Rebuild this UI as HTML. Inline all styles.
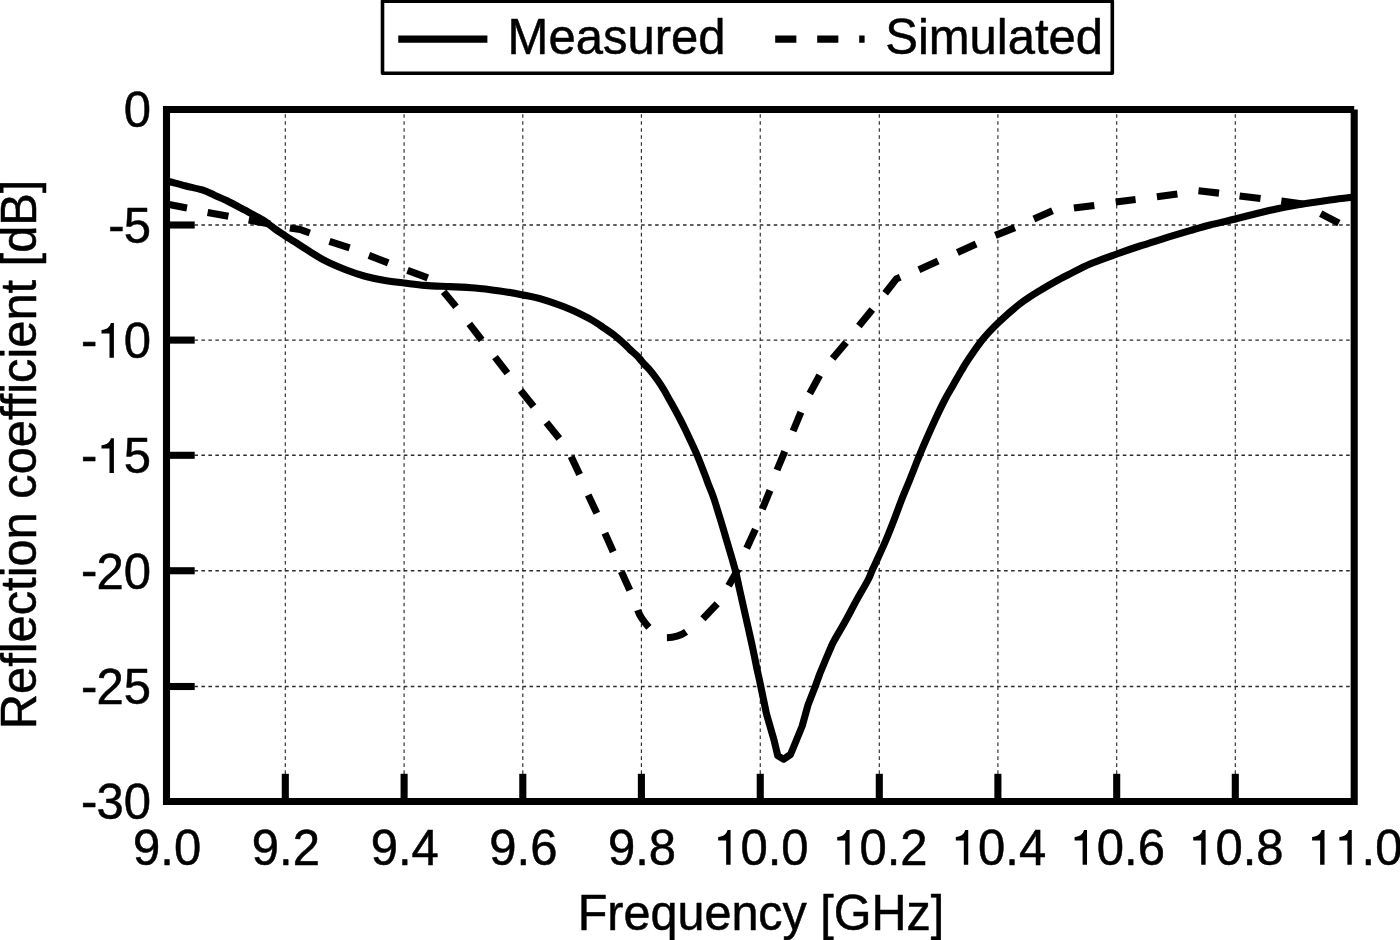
<!DOCTYPE html>
<html lang="en"><head><meta charset="utf-8"><title>Reflection coefficient</title>
<style>html,body{margin:0;padding:0;background:#fff;}svg{display:block}text{font-family:"Liberation Sans",sans-serif;fill:#000;stroke:#000;stroke-width:0.5px;stroke-linejoin:round}</style></head><body>
<svg width="1400" height="940" viewBox="0 0 1400 940">
<rect width="1400" height="940" fill="#fff"/>
<g stroke="#2b2b2b" stroke-width="1.4" stroke-dasharray="3.55 3.43" fill="none">
<path d="M285.30 801.8 V109.5" stroke-width="1.15"/>
<path d="M404.10 801.8 V109.5" stroke-width="1.15"/>
<path d="M522.80 801.8 V109.5" stroke-width="1.15"/>
<path d="M641.40 801.8 V109.5" stroke-width="1.15"/>
<path d="M760.25 801.8 V109.5" stroke-width="1.15"/>
<path d="M879.30 801.8 V109.5" stroke-width="1.15"/>
<path d="M997.90 801.8 V109.5" stroke-width="1.15"/>
<path d="M1116.70 801.8 V109.5" stroke-width="1.15"/>
<path d="M1235.30 801.8 V109.5" stroke-width="1.15"/>
<path d="M166.5 225.00 H1354.2"/>
<path d="M166.5 340.10 H1354.2"/>
<path d="M166.5 455.30 H1354.2"/>
<path d="M166.5 570.75 H1354.2"/>
<path d="M166.5 686.50 H1354.2"/>
</g>
<g stroke="#000" stroke-width="7.1" fill="none">
<path d="M285.30 801.5 V773.8"/>
<path d="M404.10 801.5 V773.8"/>
<path d="M522.80 801.5 V773.8"/>
<path d="M641.40 801.5 V773.8"/>
<path d="M760.25 801.5 V773.8"/>
<path d="M879.30 801.5 V773.8"/>
<path d="M997.90 801.5 V773.8"/>
<path d="M1116.70 801.5 V773.8"/>
<path d="M1235.30 801.5 V773.8"/>
<path d="M166.5 225.00 H194.7"/>
<path d="M166.5 340.10 H194.7"/>
<path d="M166.5 455.30 H194.7"/>
<path d="M166.5 570.75 H194.7"/>
<path d="M166.5 686.50 H194.7"/>
</g>
<path d="M166.4 180.9C167.0 181.1 166.9 181.0 170.0 181.8C173.1 182.6 179.5 184.4 185.0 185.8C190.5 187.2 198.0 188.6 203.0 190.2C208.0 191.8 211.0 193.7 215.0 195.4C219.0 197.2 222.0 198.2 227.0 200.7C232.0 203.2 239.0 207.0 245.0 210.2C251.0 213.4 258.0 217.0 263.0 220.1C268.0 223.2 271.3 226.4 275.0 229.0C278.7 231.6 281.7 233.5 285.0 235.7C288.3 237.9 290.8 239.3 295.0 242.0C299.2 244.7 305.0 248.6 310.0 251.7C315.0 254.8 319.2 257.7 325.0 260.7C330.8 263.7 338.3 266.9 345.0 269.5C351.7 272.1 358.3 274.4 365.0 276.2C371.7 278.0 378.5 279.4 385.0 280.5C391.5 281.6 397.3 282.2 404.0 283.0C410.7 283.8 417.3 284.8 425.0 285.4C432.7 286.0 441.7 286.2 450.0 286.6C458.3 287.0 466.7 287.3 475.0 288.0C483.3 288.7 492.0 289.9 500.0 291.0C508.0 292.1 516.1 293.6 522.8 294.9C529.5 296.2 532.1 296.3 540.0 298.7C547.9 301.1 561.7 305.8 570.0 309.2C578.3 312.6 585.0 316.3 590.0 319.0C595.0 321.7 597.5 323.6 600.0 325.2C602.5 326.8 602.7 327.1 605.0 328.7C607.3 330.3 610.7 332.4 614.0 335.0C617.3 337.6 622.3 342.1 625.0 344.5C627.7 346.9 627.9 347.6 630.0 349.5C632.1 351.4 635.6 354.3 637.5 356.2C639.4 358.1 640.1 359.4 641.4 360.9C642.6 362.4 643.5 363.4 645.0 365.0C646.5 366.6 648.1 368.0 650.2 370.5C652.3 373.0 655.2 376.8 657.5 380.0C659.8 383.2 662.0 386.7 664.0 390.0C666.0 393.3 667.7 396.7 669.6 400.0C671.5 403.3 673.4 406.7 675.2 410.0C677.0 413.3 678.8 416.7 680.5 420.0C682.2 423.3 683.9 426.7 685.5 430.0C687.1 433.3 688.2 435.8 690.2 440.0C692.2 444.2 695.4 451.1 697.2 455.3C699.0 459.5 699.8 461.7 701.1 465.0C702.4 468.3 703.7 471.7 705.0 475.0C706.3 478.3 707.6 482.2 708.7 485.0C709.8 487.8 710.5 489.5 711.5 492.0C712.5 494.5 713.4 497.0 714.4 500.0C715.4 503.0 716.5 506.7 717.5 510.0C718.5 513.3 719.6 516.7 720.6 520.0C721.6 523.3 722.6 526.7 723.6 530.0C724.6 533.3 725.5 536.7 726.5 540.0C727.5 543.3 728.0 544.9 729.5 550.0C731.0 555.1 733.7 564.0 735.4 570.7C737.1 577.4 738.2 583.5 739.7 590.0C741.2 596.5 742.7 603.3 744.2 610.0C745.7 616.7 747.2 623.3 748.7 630.0C750.2 636.7 751.7 643.3 753.1 650.0C754.5 656.7 756.0 664.1 757.2 670.0C758.5 675.9 759.1 678.2 760.6 685.5C762.1 692.8 766.5 714.0 766.5 714.0L774.0 740.0L777.8 755.8L783.6 759.2L790.5 754.5L796.5 740.0L802.2 726.0L808.0 705.0L815.2 686.5L819.7 674.0L825.5 660.0L831.5 646.0C831.5 646.0 832.1 644.3 834.5 640.0C836.9 635.7 842.3 626.7 846.0 620.0C849.7 613.3 853.0 606.7 856.7 600.0C860.4 593.3 865.5 584.9 868.0 580.0C870.5 575.1 870.5 574.1 872.0 570.8C873.5 567.5 874.7 565.1 877.0 560.0C879.3 554.9 883.2 546.7 886.0 540.0C888.8 533.3 891.4 526.7 894.0 520.0C896.6 513.3 898.9 506.7 901.5 500.0C904.1 493.3 907.3 486.0 909.7 480.0C912.1 474.0 914.4 468.1 916.0 464.0C917.6 459.9 917.8 459.3 919.5 455.3C921.2 451.3 923.4 445.9 926.0 440.0C928.6 434.1 931.9 426.7 935.0 420.0C938.1 413.3 941.7 405.8 944.7 400.0C947.7 394.2 950.4 390.0 953.2 385.0C956.1 380.0 959.3 374.2 961.8 370.0C964.3 365.8 964.6 365.0 968.0 360.0C971.4 355.0 977.0 346.4 982.0 340.2C987.0 334.0 991.7 329.1 998.0 323.0C1004.3 316.9 1013.0 309.2 1020.0 303.8C1027.0 298.4 1033.3 294.6 1040.0 290.5C1046.7 286.4 1055.0 281.8 1060.0 279.0C1065.0 276.2 1065.0 276.4 1070.0 273.9C1075.0 271.4 1082.2 267.3 1090.0 264.0C1097.8 260.7 1108.4 257.0 1116.7 254.0C1125.0 251.0 1132.0 248.6 1140.0 246.0C1148.0 243.4 1156.7 240.8 1165.0 238.2C1173.3 235.6 1182.5 232.9 1190.0 230.7C1197.5 228.5 1202.5 226.9 1210.0 225.0C1217.5 223.1 1227.0 221.1 1235.3 219.0C1243.6 216.9 1250.9 214.8 1260.0 212.7C1269.1 210.6 1278.3 208.3 1290.0 206.2C1301.7 204.1 1319.3 201.5 1330.0 200.0C1340.7 198.5 1350.2 197.5 1354.2 197.0" fill="none" stroke="#000" stroke-width="7.1" stroke-linejoin="round"/>
<g fill="none" stroke="#000" stroke-width="7.1" stroke-linejoin="miter">
<path d="M166.4 204.1L187.0 207.9"/>
<path d="M207.6 212.4L228.4 216.3"/>
<path d="M248.7 220.1L270.0 224.1"/>
<path d="M289.9 227.9L300.0 229.5L309.8 233.0"/>
<path d="M329.5 241.4L349.6 247.9"/>
<path d="M368.9 255.4L388.2 262.9"/>
<path d="M407.5 270.4L427.8 277.9"/>
<path d="M443.6 291.8L456.0 306.8"/>
<path d="M469.3 323.9L481.7 340.0"/>
<path d="M495.0 357.1L507.4 373.2"/>
<path d="M520.7 390.4L533.6 406.4"/>
<path d="M546.4 422.6L559.3 438.6"/>
<path d="M571.1 456.4L579.6 474.6"/>
<path d="M588.2 495.0L596.8 513.2"/>
<path d="M604.9 533.1L613.2 551.7"/>
<path d="M621.3 571.6L629.8 590.2"/>
<path d="M637.7 610.2Q640.3 618.0 648.9 627.4"/>
<path d="M666.9 637.7Q677.7 637.6 686.1 631.9"/>
<path d="M702.9 618.8L717.2 603.7"/>
<path d="M728.6 585.8L738.2 568.9"/>
<path d="M746.7 548.2L755.4 529.3"/>
<path d="M762.3 509.1L770.0 490.4"/>
<path d="M777.0 470.0L784.8 451.3"/>
<path d="M793.1 431.0L800.9 412.2"/>
<path d="M809.8 393.5L819.7 375.2"/>
<path d="M832.6 358.6L846.1 342.4"/>
<path d="M858.9 326.0L872.3 309.5"/>
<path d="M885.2 293.2L896.4 278.8L900.2 277.2"/>
<path d="M918.9 269.7L938.1 261.1"/>
<path d="M957.4 252.6L976.1 244.0"/>
<path d="M995.4 235.4L1014.8 227.6"/>
<path d="M1033.9 218.9L1052.5 210.7"/>
<path d="M1073.9 208.1L1094.3 205.4"/>
<path d="M1115.7 202.1L1135.6 199.6"/>
<path d="M1156.9 196.8L1177.4 194.0"/>
<path d="M1198.5 190.7L1219.0 193.1"/>
<path d="M1239.6 195.9L1260.5 198.6"/>
<path d="M1281.3 201.0L1303.0 203.9"/>
<path d="M1320.7 213.6L1338.9 223.2"/>
</g>
<path d="M1354.2 109.5 H166.5 V801.5 H1354.2 V109.5" fill="none" stroke="#000" stroke-width="7.1" stroke-linejoin="miter"/>
<g font-size="49">
<text transform="translate(123.75 127.3) scale(1 1.03)">0</text>
<text transform="translate(107.43 242.8) scale(1 1.03)"><tspan dx="0.8" dy="-1.1">-</tspan><tspan dx="-0.8" dy="1.1">5</tspan></text>
<text transform="translate(80.18 357.9) scale(1 1.03)"><tspan dx="0.8" dy="-1.1">-</tspan><tspan dx="-0.8" dy="1.1"></tspan></text><path d="M113.90 357.70V323.10H110.90C109.60 327.50 106.70 329.80 101.50 330.00V333.40H109.50V357.70Z" fill="#000"/><text transform="translate(123.75 357.9) scale(1 1.03)">0</text>
<text transform="translate(80.18 473.1) scale(1 1.03)"><tspan dx="0.8" dy="-1.1">-</tspan><tspan dx="-0.8" dy="1.1"></tspan></text><path d="M113.90 472.90V438.30H110.90C109.60 442.70 106.70 445.00 101.50 445.20V448.60H109.50V472.90Z" fill="#000"/><text transform="translate(123.75 473.1) scale(1 1.03)">5</text>
<text transform="translate(80.18 588.5) scale(1 1.03)"><tspan dx="0.8" dy="-1.1">-</tspan><tspan dx="-0.8" dy="1.1">20</tspan></text>
<text transform="translate(80.18 704.3) scale(1 1.03)"><tspan dx="0.8" dy="-1.1">-</tspan><tspan dx="-0.8" dy="1.1">25</tspan></text>
<text transform="translate(80.18 819.3) scale(1 1.03)"><tspan dx="0.8" dy="-1.1">-</tspan><tspan dx="-0.8" dy="1.1">30</tspan></text>
</g>
<g font-size="49" text-anchor="middle">
</g>
<g font-size="49">
<text transform="translate(133.04 864.9) scale(1 1.03)">9.0</text>
<text transform="translate(251.84 864.9) scale(1 1.03)">9.2</text>
<text transform="translate(370.64 864.9) scale(1 1.03)">9.4</text>
<text transform="translate(489.34 864.9) scale(1 1.03)">9.6</text>
<text transform="translate(607.94 864.9) scale(1 1.03)">9.8</text>
<path d="M730.57 864.70V830.10H727.57C726.27 834.50 723.37 836.80 718.17 837.00V840.40H726.17V864.70Z" fill="#000"/><text transform="translate(740.42 864.9) scale(1 1.03)">0.0</text>
<path d="M849.62 864.70V830.10H846.62C845.32 834.50 842.42 836.80 837.22 837.00V840.40H845.22V864.70Z" fill="#000"/><text transform="translate(859.47 864.9) scale(1 1.03)">0.2</text>
<path d="M968.22 864.70V830.10H965.22C963.92 834.50 961.02 836.80 955.82 837.00V840.40H963.82V864.70Z" fill="#000"/><text transform="translate(978.07 864.9) scale(1 1.03)">0.4</text>
<path d="M1087.02 864.70V830.10H1084.02C1082.72 834.50 1079.82 836.80 1074.62 837.00V840.40H1082.62V864.70Z" fill="#000"/><text transform="translate(1096.87 864.9) scale(1 1.03)">0.6</text>
<path d="M1205.62 864.70V830.10H1202.62C1201.32 834.50 1198.42 836.80 1193.22 837.00V840.40H1201.22V864.70Z" fill="#000"/><text transform="translate(1215.47 864.9) scale(1 1.03)">0.8</text>
<path d="M1324.52 864.70V830.10H1321.52C1320.22 834.50 1317.32 836.80 1312.12 837.00V840.40H1320.12V864.70Z" fill="#000"/><path d="M1351.77 864.70V830.10H1348.77C1347.47 834.50 1344.57 836.80 1339.37 837.00V840.40H1347.37V864.70Z" fill="#000"/><text transform="translate(1361.62 864.9) scale(1 1.03)">.0</text>
</g>
<g font-size="49" text-anchor="middle">
<text transform="translate(761 930) scale(0.99 1.03)">Frequency [GHz]</text>
<text transform="translate(36.3 454.4) rotate(-90) scale(0.996 1.03)">Reflection coefficient [dB]</text>
</g>
<rect x="382.5" y="1.2" width="729.8" height="72.1" fill="#fff" stroke="#000" stroke-width="3.6" stroke-linejoin="round"/>
<path d="M398.25 39.1 H487.4" stroke="#000" stroke-width="7.1" fill="none"/>
<path d="M775.2 39.1 H864.6" stroke="#000" stroke-width="7.1" stroke-dasharray="21.15 20.85" fill="none"/>
<g font-size="49"><text transform="translate(507.6 54) scale(1 1.03)">Measured</text><text transform="translate(885.2 54) scale(1 1.03)">Simulated</text></g>
</svg></body></html>
